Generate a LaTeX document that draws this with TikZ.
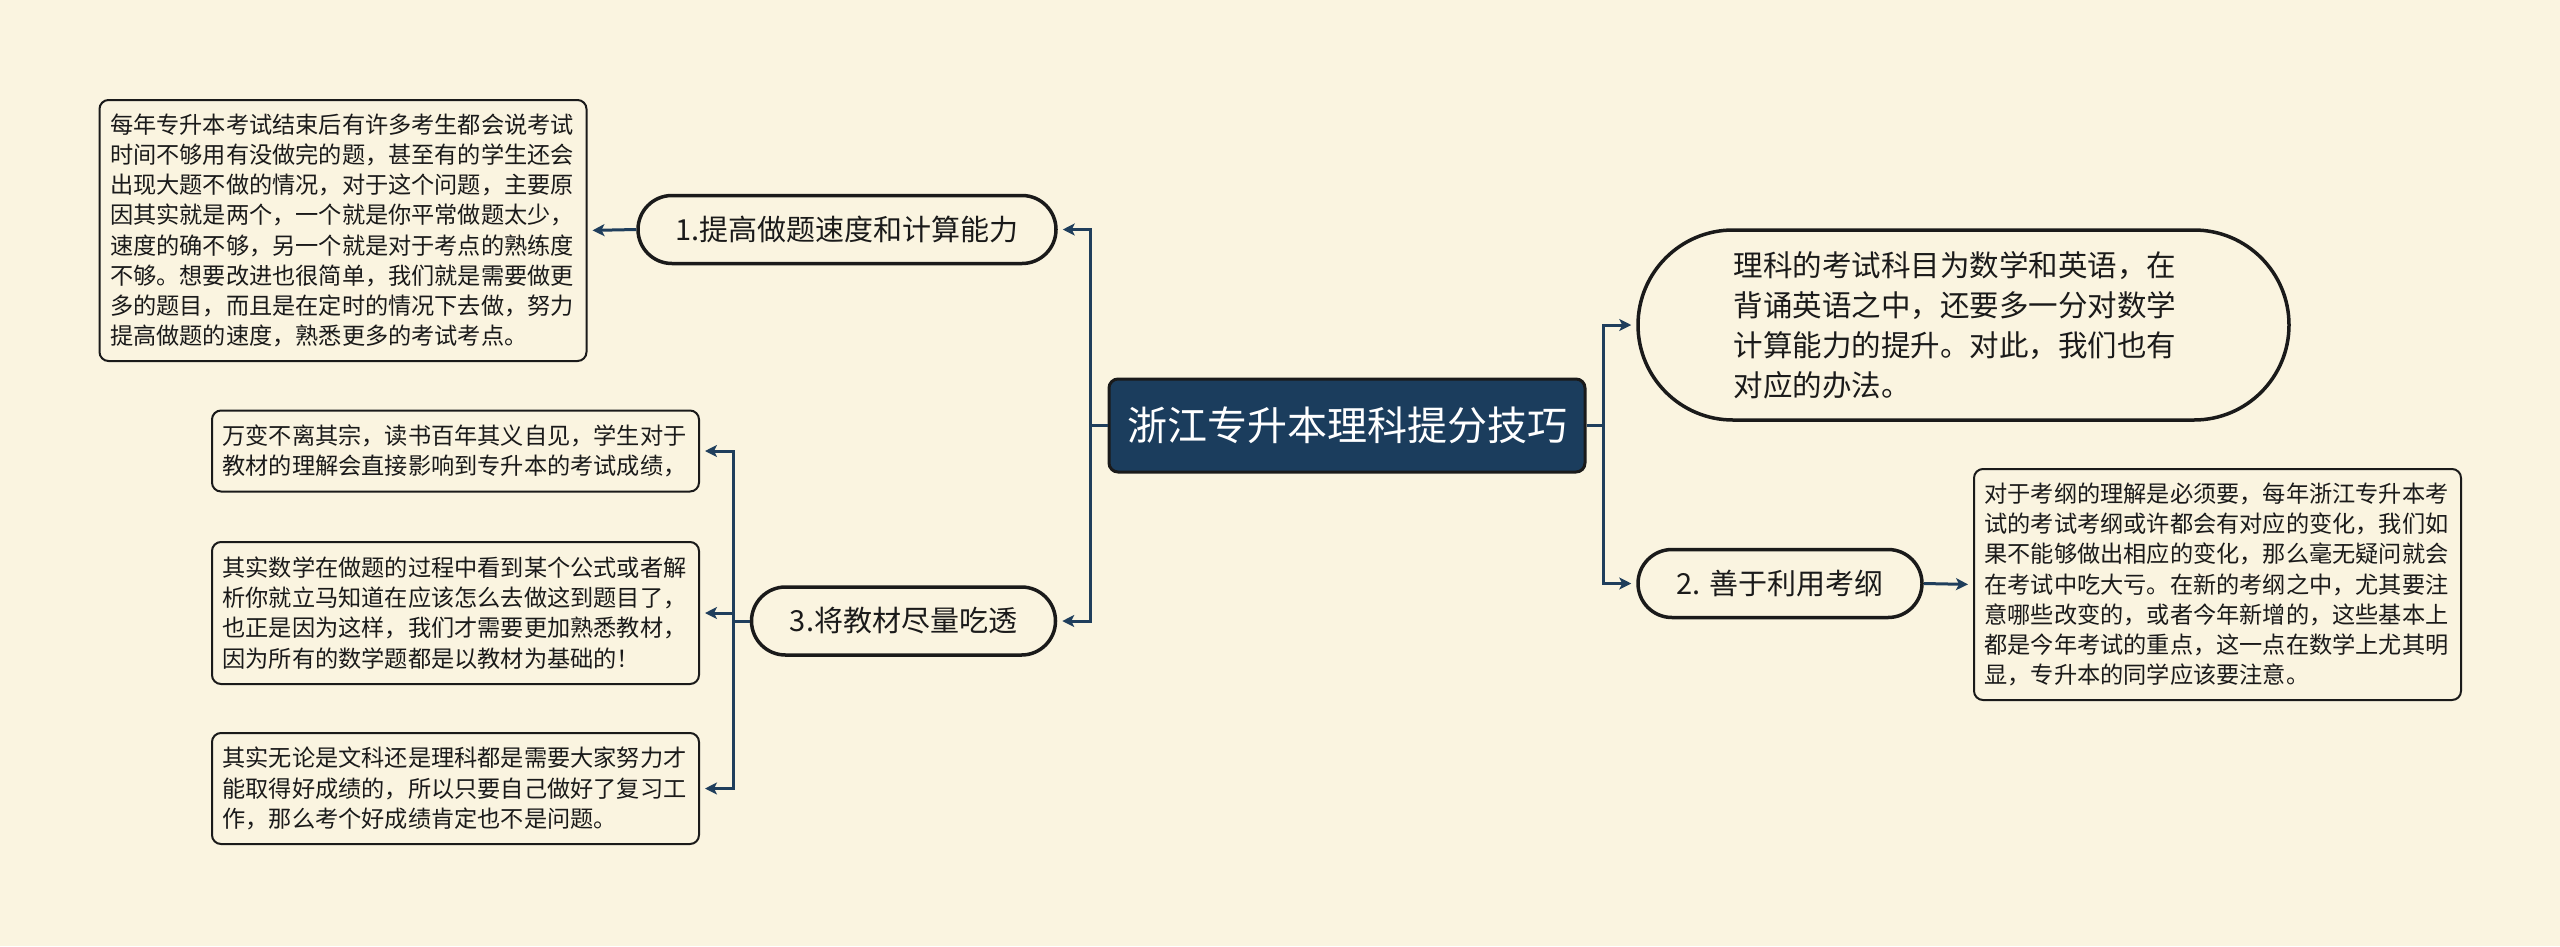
\documentclass[tikz,border=0pt]{standalone}
\usepackage{fontspec}
\setmainfont{Noto Sans CJK SC}
\usetikzlibrary{arrows.meta}
\definecolor{bg}{HTML}{FAF4E0}
\definecolor{navy}{HTML}{1B3D5D}
\definecolor{link}{HTML}{1F3E5C}
\definecolor{ink}{HTML}{1A1A1A}
\begin{document}
\begin{tikzpicture}[x=1pt,y=-1pt,
  rootbox/.style={draw=ink,line width=3pt,fill=navy,rounded corners=9pt,minimum width=476pt,minimum height=93pt,text=white,font=\fontsize{40}{48}\selectfont},
  pill/.style={draw=ink,line width=3.5pt,fill=bg,rounded corners=34pt,minimum height=68pt,font=\fontsize{29}{36}\selectfont,text=ink},
  bigpill/.style={draw=ink,line width=3.5pt,fill=bg,rounded corners=95pt,minimum width=651pt,minimum height=190pt,text width=460pt,align=left,font=\fontsize{29.5}{40}\selectfont,text=ink},
  textbox/.style={draw=ink,line width=2pt,fill=bg,rounded corners=9pt,minimum width=487pt,text width=466pt,align=left,inner xsep=10pt,font=\fontsize{23.2}{30.2}\selectfont,text=ink},
  conn/.style={draw=link,line width=3pt},
  arr/.style={conn,shorten >=5pt,-{Stealth[length=12pt,width=12pt,inset=3pt]}}
]
\fill[bg] (0,0) rectangle (2560,946);
\useasboundingbox (0,0) rectangle (2560,946);

\node[rootbox] (root) at (1347,425.5) {浙江专升本理科提分技巧};

\node[bigpill] (tr) at (1963.5,325) {理科的考试科目为数学和英语，在\\背诵英语之中，还要多一分对数学\\计算能力的提升。对此，我们也有\\对应的办法。};
\node[pill,minimum width=284pt] (s2) at (1780,583.5) {2. 善于利用考纲};
\node[textbox,minimum height=231pt] (rb) at (2217.5,584.5) {对于考纲的理解是必须要，每年浙江专升本考\\试的考试考纲或许都会有对应的变化，我们如\\果不能够做出相应的变化，那么毫无疑问就会\\在考试中吃大亏。在新的考纲之中，尤其要注\\意哪些改变的，或者今年新增的，这些基本上\\都是今年考试的重点，这一点在数学上尤其明\\显，专升本的同学应该要注意。};

\node[pill,minimum width=418pt] (s1) at (847,229.5) {1.提高做题速度和计算能力};
\node[textbox,minimum height=261pt] (b1) at (343,230.5) {每年专升本考试结束后有许多考生都会说考试\\时间不够用有没做完的题，甚至有的学生还会\\出现大题不做的情况，对于这个问题，主要原\\因其实就是两个，一个就是你平常做题太少，\\速度的确不够，另一个就是对于考点的熟练度\\不够。想要改进也很简单，我们就是需要做更\\多的题目，而且是在定时的情况下去做，努力\\提高做题的速度，熟悉更多的考试考点。};

\node[pill,minimum width=304pt] (s3) at (903.5,621) {3.将教材尽量吃透};
\node[textbox,minimum height=81pt] (bA) at (455.5,451) {万变不离其宗，读书百年其义自见，学生对于\\教材的理解会直接影响到专升本的考试成绩，};
\node[textbox,minimum height=142pt] (bB) at (455.5,613) {其实数学在做题的过程中看到某个公式或者解\\析你就立马知道在应该怎么去做这到题目了，\\也正是因为这样，我们才需要更加熟悉教材，\\因为所有的数学题都是以教材为基础的！};
\node[textbox,minimum height=111pt] (bC) at (455.5,788.5) {其实无论是文科还是理科都是需要大家努力才\\能取得好成绩的，所以只要自己做好了复习工\\作，那么考个好成绩肯定也不是问题。};

\coordinate (rj) at (1603,425.5);
\coordinate (lj) at (1090,425.5);
\coordinate (cj) at (733,621);

\draw[conn] (root.east) -- (rj);
\draw[arr] (rj) |- (tr.west);
\draw[arr] (rj) |- (s2.west);
\draw[arr] (s2.east) -- (rb.west);

\draw[conn] (root.west) -- (lj);
\draw[arr] (lj) |- (s1.east);
\draw[arr] (lj) |- (s3.east);
\draw[arr] (s1.west) -- (b1.east);

\draw[conn] (s3.west) -- (cj);
\draw[arr] (cj) |- (bA.east);
\draw[arr] (cj) |- (bB.east);
\draw[arr] (cj) |- (bC.east);
\end{tikzpicture}
\end{document}
